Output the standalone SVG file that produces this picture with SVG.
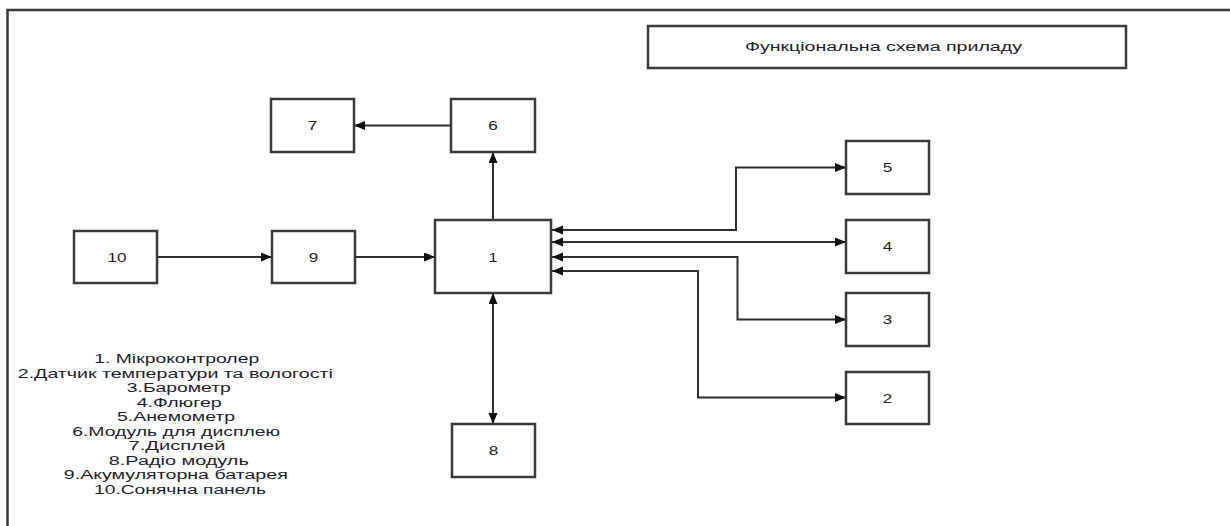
<svg xmlns="http://www.w3.org/2000/svg" width="1230" height="526" viewBox="0 0 1230 526">
<style>
.box{fill:#fff;stroke:#3a3a3a;stroke-width:2.5}
.lbl{font-family:"Liberation Sans",Arial,sans-serif;font-size:13px;fill:#222;text-anchor:middle}
.leg{font-family:"Liberation Sans",Arial,sans-serif;font-size:12px;fill:#1e1e30;text-anchor:middle}
.ln{fill:none;stroke:#2e2e2e;stroke-width:2}
</style>
<defs>
<marker id="ah" markerUnits="userSpaceOnUse" markerWidth="12" markerHeight="10" refX="11" refY="4.5" orient="auto-start-reverse">
<path d="M0,0 L11,4.5 L0,9 z" fill="#111"/>
</marker>
</defs>
<rect width="1230" height="526" fill="#fff"/>
<path d="M7.5,526 V10 H1230" fill="none" stroke="#3a3a3a" stroke-width="2.5"/>

<g id="title">
<rect class="box" x="648" y="26" width="478" height="42"/>
<text class="leg" x="883.5" y="51" textLength="277" lengthAdjust="spacingAndGlyphs">Функціональна схема приладу</text>
</g>

<g id="connectors">
<line class="ln" x1="157" y1="257" x2="272" y2="257" marker-end="url(#ah)"/>
<line class="ln" x1="355" y1="257" x2="435" y2="257" marker-end="url(#ah)"/>
<line class="ln" x1="493" y1="220" x2="493" y2="152" marker-end="url(#ah)"/>
<line class="ln" x1="451" y1="125.5" x2="354" y2="125.5" marker-end="url(#ah)"/>
<line class="ln" x1="493" y1="293" x2="493" y2="424" marker-start="url(#ah)" marker-end="url(#ah)"/>
<path class="ln" d="M552,230 H736 V167.5 H846" marker-start="url(#ah)" marker-end="url(#ah)"/>
<path class="ln" d="M552,242 H846" marker-start="url(#ah)" marker-end="url(#ah)"/>
<path class="ln" d="M552,257 H737.5 V319.5 H846" marker-start="url(#ah)" marker-end="url(#ah)"/>
<path class="ln" d="M552,271 H698 V397.5 H846" marker-start="url(#ah)" marker-end="url(#ah)"/>
</g>

<g id="n1"><rect class="box" x="435" y="220" width="116" height="73"/><text class="lbl" x="493" y="261.5" textLength="9" lengthAdjust="spacingAndGlyphs">1</text></g>
<g id="n2"><rect class="box" x="846" y="372" width="83" height="52"/><text class="lbl" x="887.5" y="402.5" textLength="9.5" lengthAdjust="spacingAndGlyphs">2</text></g>
<g id="n3"><rect class="box" x="846" y="293" width="83" height="53"/><text class="lbl" x="887.5" y="324" textLength="9.5" lengthAdjust="spacingAndGlyphs">3</text></g>
<g id="n4"><rect class="box" x="846" y="220" width="83" height="53"/><text class="lbl" x="887.5" y="251" textLength="9.5" lengthAdjust="spacingAndGlyphs">4</text></g>
<g id="n5"><rect class="box" x="846" y="141" width="83" height="53"/><text class="lbl" x="887.5" y="172" textLength="9.5" lengthAdjust="spacingAndGlyphs">5</text></g>
<g id="n6"><rect class="box" x="451" y="99" width="84" height="53"/><text class="lbl" x="493" y="130" textLength="9.5" lengthAdjust="spacingAndGlyphs">6</text></g>
<g id="n7"><rect class="box" x="271" y="99" width="83" height="53"/><text class="lbl" x="312.5" y="130" textLength="9.5" lengthAdjust="spacingAndGlyphs">7</text></g>
<g id="n8"><rect class="box" x="452" y="424" width="83" height="53"/><text class="lbl" x="493.5" y="455" textLength="9.5" lengthAdjust="spacingAndGlyphs">8</text></g>
<g id="n9"><rect class="box" x="272" y="231" width="83" height="52"/><text class="lbl" x="313.5" y="261.5" textLength="9.5" lengthAdjust="spacingAndGlyphs">9</text></g>
<g id="n10"><rect class="box" x="74" y="231" width="83" height="52"/><text class="lbl" x="117" y="261.5" textLength="19" lengthAdjust="spacingAndGlyphs">10</text></g>

<g id="legend">
<text class="leg" x="176.7" y="363" textLength="165" lengthAdjust="spacingAndGlyphs">1. Мікроконтролер</text>
<text class="leg" x="175.3" y="377.5" textLength="315" lengthAdjust="spacingAndGlyphs">2.Датчик температури та вологості</text>
<text class="leg" x="178.8" y="392" textLength="104" lengthAdjust="spacingAndGlyphs">3.Барометр</text>
<text class="leg" x="179.2" y="406.5" textLength="85" lengthAdjust="spacingAndGlyphs">4.Флюгер</text>
<text class="leg" x="176" y="421" textLength="118" lengthAdjust="spacingAndGlyphs">5.Анемометр</text>
<text class="leg" x="176.2" y="435.5" textLength="208" lengthAdjust="spacingAndGlyphs">6.Модуль для дисплею</text>
<text class="leg" x="177" y="450" textLength="97" lengthAdjust="spacingAndGlyphs">7.Дисплей</text>
<text class="leg" x="178.8" y="464.5" textLength="140" lengthAdjust="spacingAndGlyphs">8.Радіо модуль</text>
<text class="leg" x="175.8" y="479" textLength="224" lengthAdjust="spacingAndGlyphs">9.Акумуляторна батарея</text>
<text class="leg" x="180" y="493.5" textLength="172" lengthAdjust="spacingAndGlyphs">10.Сонячна панель</text>
</g>
</svg>
